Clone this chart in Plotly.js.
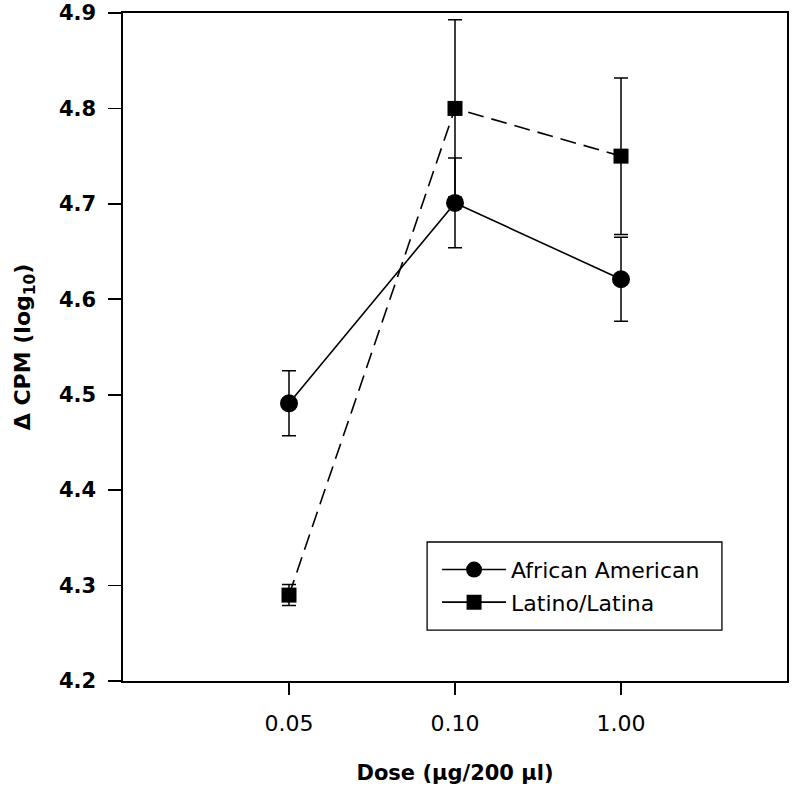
<!DOCTYPE html>
<html>
<head>
<meta charset="utf-8">
<script src="https://cdn.plot.ly/plotly-3.0.1.min.js"></script>
<style>html,body{margin:0;padding:0;background:#fff;}#chart{width:800px;height:795px;}</style>
</head>
<body>
<div id="chart"></div>
<script>
// Data
const doses = ["0.05", "0.10", "1.00"];
const africanAmerican = [4.491, 4.701, 4.621];
const africanAmericanErr = [0.034, 0.047, 0.044];
const latino = [4.290, 4.800, 4.750];
const latinoErr = [0.011, 0.093, 0.082];
const yTicks = [4.2, 4.3, 4.4, 4.5, 4.6, 4.7, 4.8, 4.9];

const FONT = "DejaVu Sans, Arial, sans-serif";

const traces = [
  {
    x: doses, y: africanAmerican, type: "scatter", mode: "lines+markers",
    name: "African American", showlegend: false,
    line: {color: "#000", width: 1.6},
    marker: {symbol: "circle", size: 18, color: "#000"},
    error_y: {type: "data", array: africanAmericanErr, visible: true, color: "#000", thickness: 1.5, width: 7}
  },
  {
    x: doses, y: latino, type: "scatter", mode: "lines+markers",
    name: "Latino/Latina", showlegend: false,
    line: {color: "#000", width: 1.6, dash: "16px,8px"},
    marker: {symbol: "square", size: 15, color: "#000"},
    error_y: {type: "data", array: latinoErr, visible: true, color: "#000", thickness: 1.5, width: 7}
  },
  // legend entries (solid sample lines as in the reference)
  {
    x: [null], y: [null], type: "scatter", mode: "lines+markers", name: "African American",
    legendgroup: "aa",
    line: {color: "#000", width: 1.6}, marker: {symbol: "circle", size: 18, color: "#000"}
  },
  {
    x: [null], y: [null], type: "scatter", mode: "lines+markers", name: "Latino/Latina",
    legendgroup: "ll",
    line: {color: "#000", width: 1.6}, marker: {symbol: "square", size: 15, color: "#000"}
  }
];

const layout = {
  width: 800, height: 795,
  margin: {l: 123, r: 13, t: 13, b: 114},
  paper_bgcolor: "#fff", plot_bgcolor: "#fff",
  font: {family: FONT, color: "#000"},
  showlegend: true,
  xaxis: {
    type: "category", categoryarray: doses, range: [-1, 3],
    showgrid: false, zeroline: false,
    showline: true, mirror: true, linecolor: "#000", linewidth: 1.6,
    ticks: "outside", ticklen: 12, tickwidth: 1.6, tickcolor: "#000",
    tickfont: {family: FONT, size: 22, color: "#000"},
    ticklabelstandoff: 10,
    title: {text: "Dose (\u00b5g/200 \u00b5l)", font: {family: FONT, size: 21, weight: "bold", color: "#000"}, standoff: 30}
  },
  yaxis: {
    range: [4.2, 4.9], tickvals: yTicks, ticktext: yTicks.map(v => v.toFixed(1)),
    showgrid: false, zeroline: false,
    showline: true, mirror: true, linecolor: "#000", linewidth: 1.6,
    ticks: "outside", ticklen: 13, tickwidth: 1.6, tickcolor: "#000",
    tickfont: {family: FONT, size: 21, weight: "bold", color: "#000"},
    ticklabelstandoff: 8,
    title: {text: "\u0394 CPM (log<sub>10</sub>)", font: {family: FONT, size: 22, weight: "bold", color: "#000"}, standoff: 22}
  },
  legend: {
    x: 0.473, y: 0.198, xanchor: "left", yanchor: "top",
    bgcolor: "rgba(0,0,0,0)", borderwidth: 0,
    font: {family: FONT, size: 22, color: "#000"},
    itemwidth: 64, tracegroupgap: 1
  },
  shapes: [
    {type: "rect", xref: "paper", yref: "paper", x0: 0.458, x1: 0.902, y0: 0.0763, y1: 0.2081,
     line: {color: "#000", width: 1.3}, fillcolor: "rgba(0,0,0,0)"}
  ]
};

Plotly.newPlot("chart", traces, layout, {displayModeBar: false, staticPlot: true});
</script>
</body>
</html>
